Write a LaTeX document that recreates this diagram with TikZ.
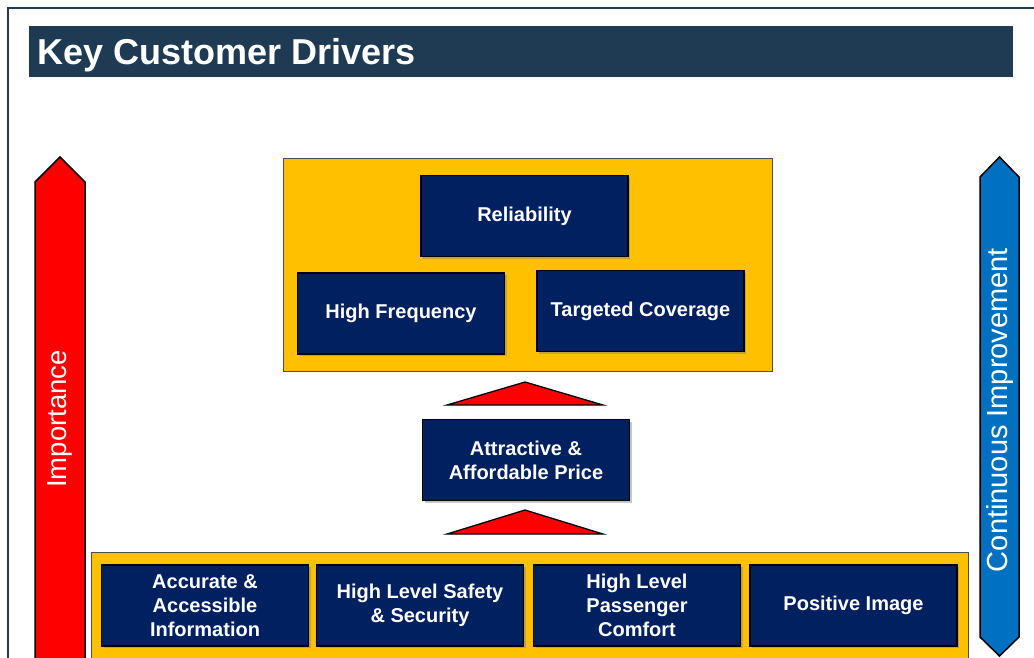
\documentclass[tikz,border=0pt]{standalone}
\usepackage{fontspec}
\setmainfont{Liberation Sans}
\usetikzlibrary{positioning,shadows}

\definecolor{titlenavy}{HTML}{1F3B53}
\definecolor{drivernavy}{HTML}{002060}
\definecolor{tiergold}{HTML}{FFC000}
\definecolor{importred}{HTML}{FF0000}
\definecolor{improveblue}{HTML}{0070C0}

\begin{document}
\begin{tikzpicture}[x=1pt, y=-1pt,
    % Box styles: navy drivers sitting on gold tiers
    driver/.style={rectangle, draw=black, line width=1.5pt, fill=drivernavy, text=white, minimum width=207pt, minimum height=81pt, align=center, font=\fontsize{20}{24}\selectfont\bfseries, drop shadow={shadow xshift=2pt, shadow yshift=-2pt, opacity=0.45}},
    tier/.style={rectangle, draw=black!70, line width=1pt, fill=tiergold},
    % Side bars and step triangles
    sidebar/.style={draw=black, line width=1.5pt},
    sidetext/.style={text=white, font=\fontsize{27.5}{30}\selectfont},
    rise/.style={draw=black, line width=1.3pt, fill=importred, line join=miter},
    % Title style
    title/.style={rectangle, fill=titlenavy, text=white, minimum width=984pt, minimum height=51pt, text width=970pt, align=left, font=\fontsize{36}{40}\selectfont\bfseries}
]
\useasboundingbox (0,0) rectangle (1034,657);
\clip (0,0) rectangle (1034,657);

% Frame and title
\draw[titlenavy, line width=2pt] (8,720) -- (8,8) -- (1060,8);
\node[title] (title) at (521,51.5) {};
\node[text=white, font=\fontsize{36}{40}\selectfont\bfseries, anchor=base west] (titletext) at (34,64) {Key Customer Drivers};

% Importance bar (left) and improvement bar (right)
\draw[sidebar, fill=importred] (35,720) -- (35,182) -- (60,157) -- (85,182) -- (85,720) -- cycle;
\node[sidetext, rotate=90] (importance) at (60,419) {Importance};
\draw[sidebar, fill=improveblue] (980,637) -- (980,177) -- (999.5,157) -- (1019,177) -- (1019,637) -- (999.5,656) -- cycle;
\node[sidetext, rotate=90, font=\fontsize{29}{32}\selectfont] (improvement) at (999.5,410) {Continuous Improvement};

% Top tier
\node[tier, minimum width=489pt, minimum height=213pt] (toptier) at (527.5,264.5) {};
\node[driver] (reliability) at (524.5,216) {Reliability};
\node[driver] (frequency) at (401,313.5) {High Frequency};
\node[driver] (coverage) at (640.5,311) {Targeted Coverage};

% Middle step
\draw[rise] (447,405) -- (525,382) -- (603,405) -- cycle;
\node[driver] (price) at (526,460) {Attractive \&\\Affordable Price};
\draw[rise] (447,534) -- (525,510) -- (603,534) -- cycle;

% Base tier
\node[tier, minimum width=877pt, minimum height=150pt] (basetier) at (529.5,627) {};
\node[driver] (information) at (205,605.5) {Accurate \&\\Accessible\\Information};
\node[driver] (safety) at (420,605.5) {High Level Safety\\\& Security};
\node[driver] (comfort) at (637,605.5) {High Level\\Passenger\\Comfort};
\node[driver] (image) at (853.5,605.5) {Positive Image};

\end{tikzpicture}
\end{document}
